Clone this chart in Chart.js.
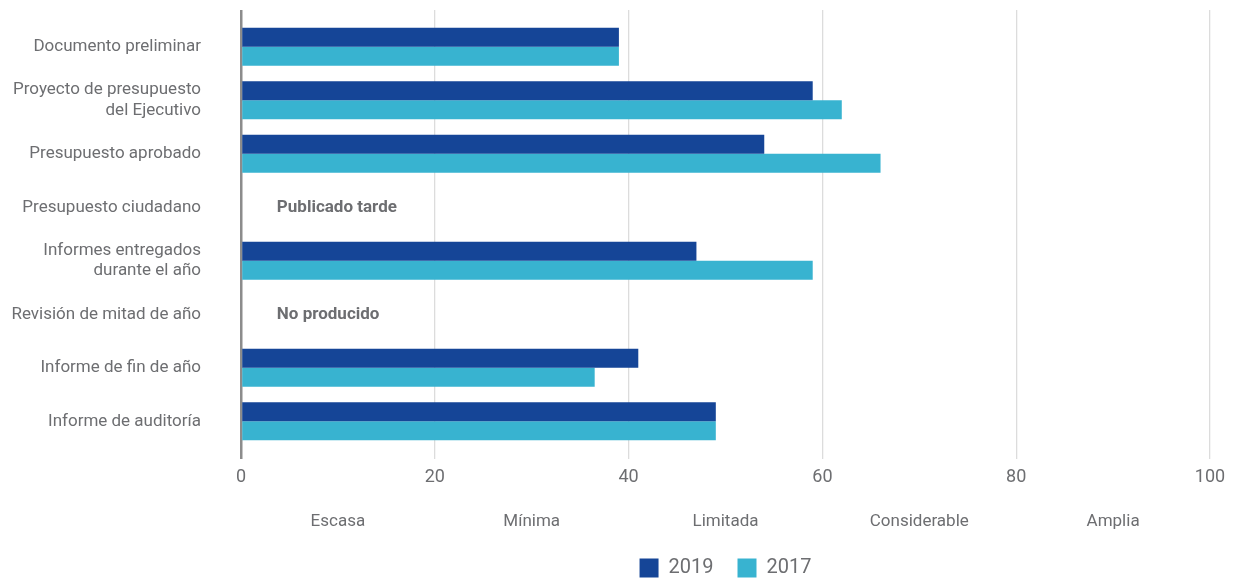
<!DOCTYPE html>
<html>
<head>
<meta charset="utf-8">
<script src="https://cdn.jsdelivr.net/npm/chart.js@4.4.1/dist/chart.umd.min.js"></script>
<style>
  html, body { margin: 0; padding: 0; background: #ffffff; }
  #wrap { width: 1235px; height: 579px; }
</style>
</head>
<body>
<div id="wrap"><canvas id="c" width="1235" height="579"></canvas></div>
<script>
const categories = [
  'Documento preliminar',
  ['Proyecto de presupuesto', 'del Ejecutivo'],
  'Presupuesto aprobado',
  'Presupuesto ciudadano',
  ['Informes entregados', 'durante el año'],
  'Revisión de mitad de año',
  'Informe de fin de año',
  'Informe de auditoría'
];
const values2019 = [39, 59, 54, null, 47, null, 41, 49];
const values2017 = [39, 62, 66, null, 59, null, 36.5, 49];
const seriesNames = ['2019', '2017'];
const notes = [null, null, null, 'Publicado tarde', null, 'No producido', null, null];
const xTicks = [0, 20, 40, 60, 80, 100];
const levelLabels = ['Escasa', 'Mínima', 'Limitada', 'Considerable', 'Amplia'];
const levelCenters = [10, 30, 50, 70, 90];

const FONT = 'Roboto, "Liberation Sans", sans-serif';
const TEXT = '#6d6e71';
const GRID = '#dcdcdc';
const ZERO = '#8c8c8c';

const gridColor = ctx => (ctx.tick && ctx.tick.value === 0) ? ZERO : GRID;
const gridWidth = ctx => (ctx.tick && ctx.tick.value === 0) ? 2.5 : 1.3;

const notesPlugin = {
  id: 'notes',
  afterDatasetsDraw(chart) {
    const { ctx, scales } = chart;
    ctx.save();
    ctx.font = 'bold 17px ' + FONT;
    ctx.fillStyle = TEXT;
    ctx.textAlign = 'left';
    ctx.textBaseline = 'middle';
    notes.forEach((t, i) => {
      if (!t) return;
      ctx.fillText(t, scales.x.getPixelForValue(3.7), scales.y.getPixelForValue(i));
    });
    ctx.restore();
  }
};

new Chart(document.getElementById('c'), {
  type: 'bar',
  data: {
    labels: categories,
    datasets: [
      { label: seriesNames[0], data: values2019, backgroundColor: '#154597', borderWidth: 0 },
      { label: seriesNames[1], data: values2017, backgroundColor: '#38b3d0', borderWidth: 0 }
    ]
  },
  options: {
    indexAxis: 'y',
    responsive: false,
    animation: false,
    maintainAspectRatio: false,
    layout: { padding: { left: 0, right: 25, top: 0, bottom: -9 } },
    datasets: { bar: { categoryPercentage: 0.71, barPercentage: 1.0 } },
    scales: {
      y: {
        type: 'category',
        offset: true,
        grid: { display: false, drawTicks: false },
        border: { display: false },
        ticks: { color: TEXT, font: { family: FONT, size: 17 }, padding: 40 },
        afterFit(s) { s.width = 241; s.paddingTop = 0; s.paddingBottom = 0; }
      },
      x: {
        type: 'linear', position: 'bottom', min: 0, max: 100, weight: 0,
        afterBuildTicks(s) { s.ticks = xTicks.map(v => ({ value: v })); },
        grid: { color: gridColor, lineWidth: gridWidth, tickLength: 11, drawTicks: true },
        border: { display: false },
        ticks: { color: TEXT, font: { family: FONT, size: 18 }, padding: 8, maxRotation: 0, autoSkip: false },
        afterFit(s) { s.height = 48; }
      },
      xTop: {
        type: 'linear', position: 'top', min: 0, max: 100, axis: 'x',
        afterBuildTicks(s) { s.ticks = xTicks.map(v => ({ value: v })); },
        grid: { color: gridColor, lineWidth: gridWidth, tickLength: 10, drawOnChartArea: false, drawTicks: true },
        border: { display: false },
        ticks: { display: false },
        afterFit(s) { s.height = 20; }
      },
      x2: {
        type: 'linear', position: 'bottom', min: 0, max: 100, axis: 'x', weight: 1,
        afterBuildTicks(s) { s.ticks = levelCenters.map(v => ({ value: v })); },
        grid: { display: false, drawTicks: false },
        border: { display: false },
        ticks: {
          color: TEXT, font: { family: FONT, size: 17 }, padding: 16, maxRotation: 0, autoSkip: false,
          callback: (v, i) => levelLabels[i]
        },
        afterFit(s) { s.height = 38; }
      }
    },
    plugins: {
      legend: {
        position: 'bottom',
        fullSize: false,
        labels: { boxWidth: 19, boxHeight: 19, padding: 24, color: TEXT, font: { family: FONT, size: 20 } }
      },
      tooltip: { enabled: false }
    }
  },
  plugins: [notesPlugin]
});
</script>
</body>
</html>
